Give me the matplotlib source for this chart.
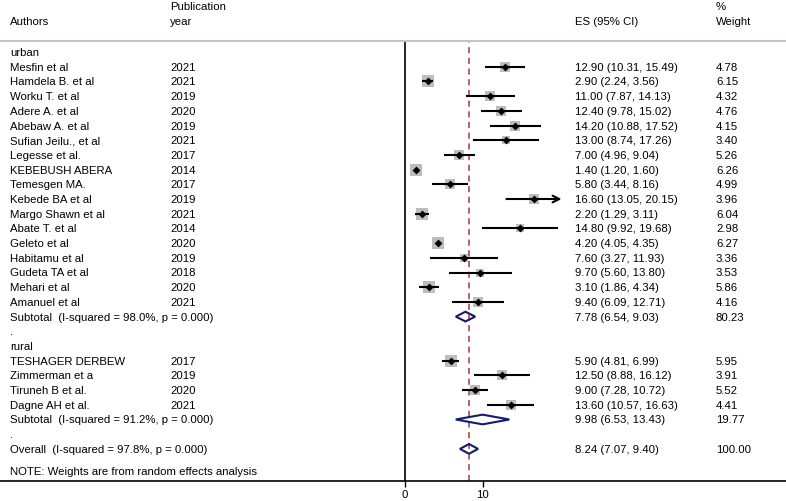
import matplotlib.pyplot as plt
import matplotlib.transforms as mtransforms
from matplotlib.patches import Polygon

plt.rcParams["font.family"] = ["Liberation Sans", "DejaVu Sans"]
plt.rcParams["font.size"] = 8.2

# ----------- data -----------
urban_authors = ["Mesfin et al", "Hamdela B. et al", "Worku T. et al", "Adere A. et al",
                 "Abebaw A. et al", "Sufian Jeilu., et al", "Legesse et al.", "KEBEBUSH ABERA",
                 "Temesgen MA.", "Kebede BA et al", "Margo Shawn et al", "Abate T. et al",
                 "Geleto et al", "Habitamu et al", "Gudeta TA et al", "Mehari et al", "Amanuel et al"]
urban_years = [2021, 2021, 2019, 2020, 2019, 2021, 2017, 2014, 2017, 2019, 2021, 2014,
               2020, 2019, 2018, 2020, 2021]
urban_es = [12.90, 2.90, 11.00, 12.40, 14.20, 13.00, 7.00, 1.40, 5.80, 16.60, 2.20, 14.80,
            4.20, 7.60, 9.70, 3.10, 9.40]
urban_lo = [10.31, 2.24, 7.87, 9.78, 10.88, 8.74, 4.96, 1.20, 3.44, 13.05, 1.29, 9.92,
            4.05, 3.27, 5.60, 1.86, 6.09]
urban_hi = [15.49, 3.56, 14.13, 15.02, 17.52, 17.26, 9.04, 1.60, 8.16, 20.15, 3.11, 19.68,
            4.35, 11.93, 13.80, 4.34, 12.71]
urban_w = [4.78, 6.15, 4.32, 4.76, 4.15, 3.40, 5.26, 6.26, 4.99, 3.96, 6.04, 2.98,
           6.27, 3.36, 3.53, 5.86, 4.16]

rural_authors = ["TESHAGER DERBEW", "Zimmerman et a", "Tiruneh B et al.", "Dagne AH et al."]
rural_years = [2017, 2019, 2020, 2021]
rural_es = [5.90, 12.50, 9.00, 13.60]
rural_lo = [4.81, 8.88, 7.28, 10.57]
rural_hi = [6.99, 16.12, 10.72, 16.63]
rural_w = [5.95, 3.91, 5.52, 4.41]

subtotal_labels = ["Subtotal  (I-squared = 98.0%, p = 0.000)",
                   "Subtotal  (I-squared = 91.2%, p = 0.000)"]
subtotal_es = [7.78, 9.98]
subtotal_lo = [6.54, 6.53]
subtotal_hi = [9.03, 13.43]
subtotal_w = [80.23, 19.77]

overall_label = "Overall  (I-squared = 97.8%, p = 0.000)"
overall_es, overall_lo, overall_hi, overall_w = 8.24, 7.07, 9.40, 100.00

x_ticks = [0, 10]
x_ticklabels = ["0", "10"]
axis_max = 20  # CIs beyond this get an arrow

# ----------- layout -----------
W, H = 786, 502
top_px, bottom_px = 42, 482
row0_px, row_h = 53, 14.7

fig = plt.figure(figsize=(W / 100, H / 100), dpi=100)
ax = fig.add_axes([0, (H - bottom_px) / H, 1, (bottom_px - top_px) / H])
ax.set_xlim(-405 / 7.77, (W - 405) / 7.77)
ax.set_ylim((bottom_px - row0_px) / row_h, (top_px - row0_px) / row_h)

for s in ["left", "right"]:
    ax.spines[s].set_visible(False)
ax.spines["top"].set_color("#c4c4c4")
ax.spines["top"].set_linewidth(1.5)
ax.spines["bottom"].set_linewidth(1.2)
ax.set_yticks([])
ax.set_xticks(x_ticks)
ax.set_xticklabels(x_ticklabels)
ax.tick_params(axis="x", direction="out", length=4, width=1, pad=2, labelsize=8.2)

trans = mtransforms.blended_transform_factory(ax.transAxes, ax.transData)
col_author, col_year, col_es, col_w = 10 / W, 170 / W, 575 / W, 716 / W


def row_text(y, author="", year="", es="", w=""):
    for x, t in [(col_author, author), (col_year, year), (col_es, es), (col_w, w)]:
        if t != "":
            ax.text(x, y, t, transform=trans, va="center", ha="left", clip_on=False)


def ci_str(e, lo, hi):
    return f"{e:.2f} ({lo:.2f}, {hi:.2f})"


def study(y, e, lo, hi, w):
    if hi > axis_max:
        ax.annotate("", xy=(hi, y), xytext=(lo, y),
                    arrowprops=dict(arrowstyle="->", lw=1.5, color="black",
                                    mutation_scale=12, shrinkA=0, shrinkB=0))
    else:
        ax.plot([lo, hi], [y, y], color="black", lw=1.5, solid_capstyle="butt", zorder=3)
    ax.scatter([e], [y], s=11.2 * w, marker="s", color="#bdbdbd", zorder=2, linewidths=0)
    ax.scatter([e], [y], s=16, marker="D", color="black", zorder=4, linewidths=0)


def diamond(y, e, lo, hi):
    dh = 0.33
    ax.add_patch(Polygon([(lo, y), (e, y - dh), (hi, y), (e, y + dh)], closed=True,
                         fill=False, edgecolor="#141a6e", lw=1.5, zorder=3))


# header
ax.text(col_year, (7 - row0_px) / row_h, "Publication", transform=trans, va="center", clip_on=False)
ax.text(col_w, (7 - row0_px) / row_h, "%", transform=trans, va="center", clip_on=False)
y_head = (22 - row0_px) / row_h
row_text(y_head, "Authors", "year", "ES (95% CI)", "Weight")

# reference lines
ax.axvline(0, color="black", lw=1.2, zorder=1)
ax.axvline(overall_es, color="#9e3a46", lw=1.1, ls=(0, (4, 3)), zorder=1)

y = 0
row_text(y, "urban")
for a, yr, e, lo, hi, w in zip(urban_authors, urban_years, urban_es, urban_lo, urban_hi, urban_w):
    y += 1
    row_text(y, a, str(yr), ci_str(e, lo, hi), f"{w:.2f}")
    study(y, e, lo, hi, w)
y += 1
row_text(y, subtotal_labels[0], "", ci_str(subtotal_es[0], subtotal_lo[0], subtotal_hi[0]),
         f"{subtotal_w[0]:.2f}")
diamond(y, subtotal_es[0], subtotal_lo[0], subtotal_hi[0])
y += 1
row_text(y, ".")
y += 1
row_text(y, "rural")
for a, yr, e, lo, hi, w in zip(rural_authors, rural_years, rural_es, rural_lo, rural_hi, rural_w):
    y += 1
    row_text(y, a, str(yr), ci_str(e, lo, hi), f"{w:.2f}")
    study(y, e, lo, hi, w)
y += 1
row_text(y, subtotal_labels[1], "", ci_str(subtotal_es[1], subtotal_lo[1], subtotal_hi[1]),
         f"{subtotal_w[1]:.2f}")
diamond(y, subtotal_es[1], subtotal_lo[1], subtotal_hi[1])
y += 1
row_text(y, ".")
y += 1
row_text(y, overall_label, "", ci_str(overall_es, overall_lo, overall_hi), f"{overall_w:.2f}")
diamond(y, overall_es, overall_lo, overall_hi)
row_text(y + 1.5, "NOTE: Weights are from random effects analysis")

fig.savefig("out.png", dpi=100)
